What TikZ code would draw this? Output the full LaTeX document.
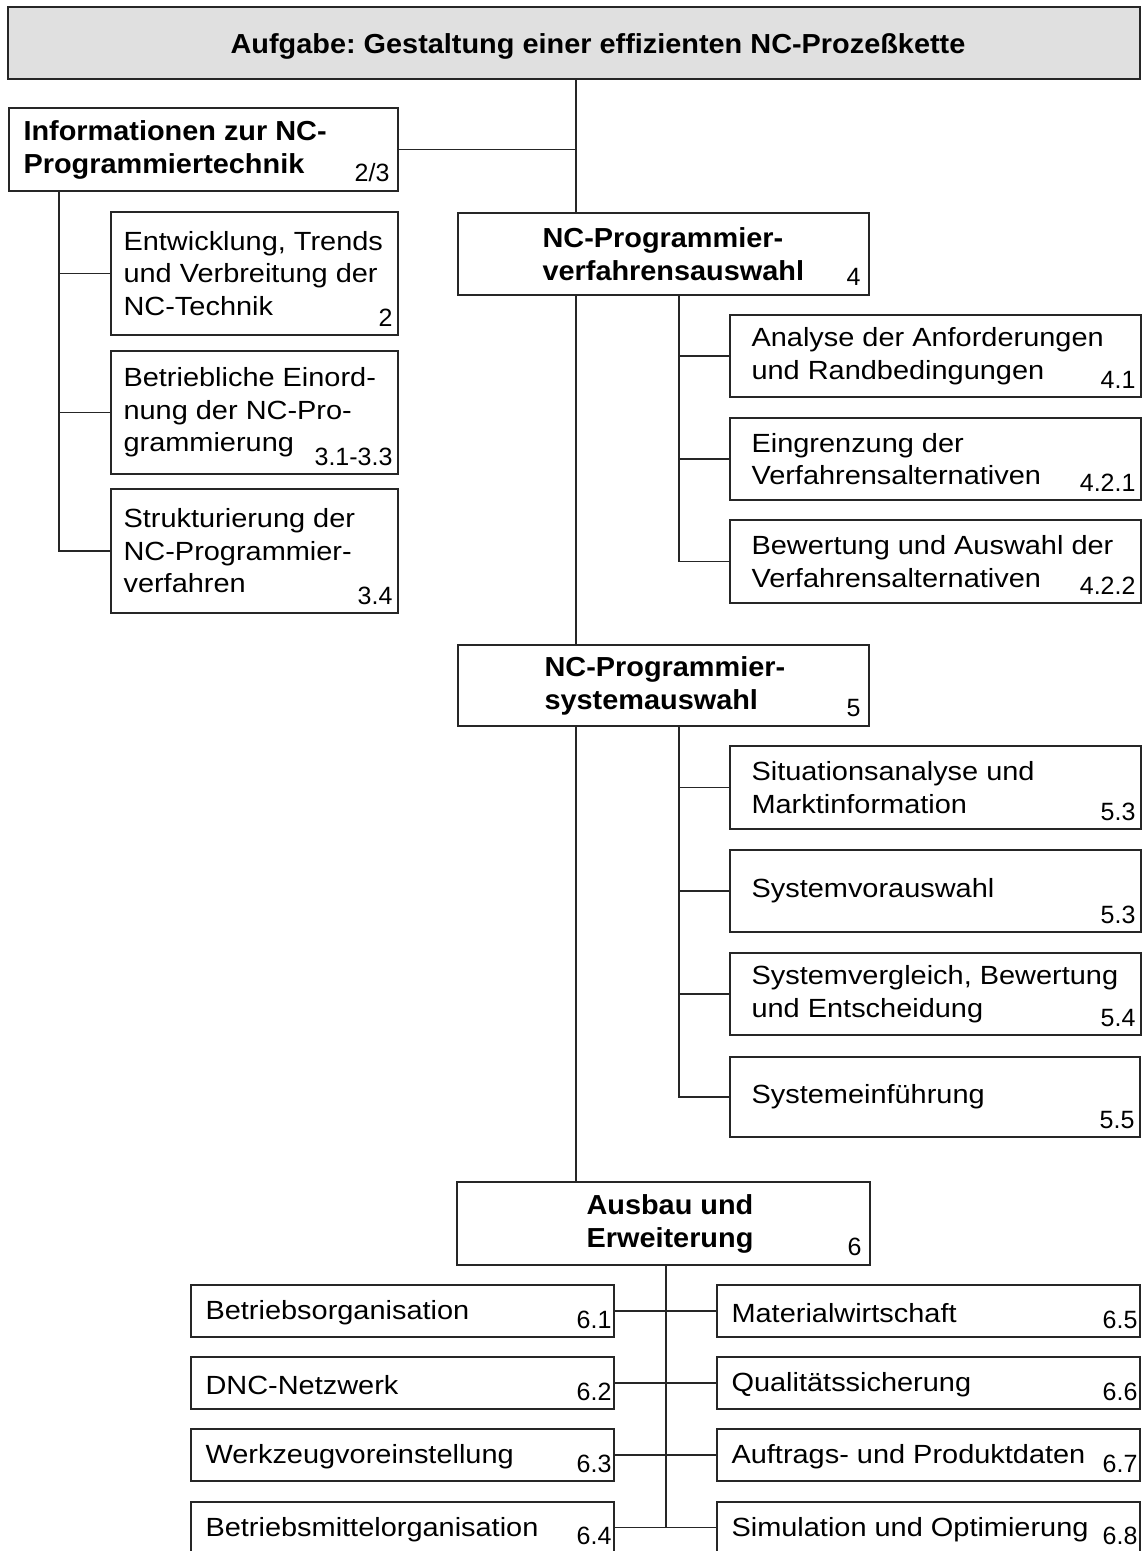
\documentclass[tikz,border=0pt]{standalone}
\usepackage{fontspec}
\setmainfont{Liberation Sans}
\newfontfamily\txtfont{Liberation Sans}[FakeStretch=1.10]
\newfontfamily\hdfont{Liberation Sans}[FakeStretch=1.05]
\newfontfamily\numfont{Liberation Sans}
\usetikzlibrary{fit}
\frenchspacing

\tikzset{
  frame/.style={rectangle, draw=black!85, line width=1.3pt, inner sep=0pt},
  topframe/.style={frame, fill=black!12},
  txt/.style={inner sep=0pt, align=left, font=\txtfont\fontsize{26.3}{32.5}\selectfont},
  hd/.style={inner sep=0pt, align=left, font=\hdfont\bfseries\fontsize{27.5}{33}\selectfont},
  num/.style={inner sep=0pt, anchor=base east, font=\numfont\fontsize{25}{30}\selectfont},
  link/.style={draw=black!85, line width=1.2pt},
}

% leaf box: name, x1, y1, x2, y2, left padding, text, number
\newcommand\leafbox[8]{%
  \node[frame, fit={(#2,#3) (#4,#5)}] (#1) {};
  \node[txt, anchor=west] (#1-t) at ([xshift=#6pt]#1.west) {#7};
  \node[num] (#1-n) at ([xshift=-6pt,yshift=9pt]#1.south east) {#8};
}
% one-line box of the last block: name, x1, y1, x2, y2, text, number
\newcommand\rowbox[7]{%
  \node[frame, fit={(#2,#3) (#4,#5)}] (#1) {};
  \node[txt, anchor=west] (#1-t) at ([xshift=15pt,yshift=-2pt]#1.west) {#6};
  \node[num] (#1-n) at ([xshift=-3pt,yshift=9pt]#1.south east) {#7};
}
% bold stage box: name, x1, y1, x2, y2, text offset, text, number
\newcommand\stagebox[8]{%
  \node[frame, fit={(#2,#3) (#4,#5)}] (#1) {};
  \node[hd, anchor=west] (#1-t) at ([xshift=#6pt]#1.west) {#7};
  \node[num] (#1-n) at ([xshift=-9pt,yshift=10pt]#1.south east) {#8};
}

\begin{document}
\begin{tikzpicture}[x=1pt, y=-1pt]
\useasboundingbox (0,0) rectangle (1146,1551);

% title bar
\node[topframe, fit={(8,7) (1140,79)}] (task) {};
\node[hd, anchor=base] (task-t) at (598,53) {Aufgabe: Gestaltung einer effizienten NC-Prozeßkette};

% left branch
\stagebox{info}{9}{108}{398}{191}{15}{Informationen zur NC-\\Programmiertechnik}{2/3}
\leafbox{e1}{111}{212}{398}{335}{13}{Entwicklung, Trends\\und Verbreitung der\\NC-Technik}{2}
\leafbox{e2}{111}{351}{398}{474}{13}{Betriebliche Einord-\\nung der NC-Pro-\\grammierung}{3.1-3.3}
\leafbox{e3}{111}{489}{398}{613}{13}{Strukturierung der\\NC-Programmier-\\verfahren}{3.4}

% procedure selection
\stagebox{pv}{458}{213}{869}{295}{85}{NC-Programmier-\\verfahrensauswahl}{4}
\leafbox{a1}{730}{315}{1141}{397}{22}{Analyse der Anforderungen\\und Randbedingungen}{4.1}
\leafbox{a2}{730}{418}{1141}{500}{22}{Eingrenzung der\\Verfahrensalternativen}{4.2.1}
\leafbox{a3}{730}{520}{1141}{603}{22}{Bewertung und Auswahl der\\Verfahrensalternativen}{4.2.2}

% system selection
\stagebox{ps}{458}{645}{869}{726}{87}{NC-Programmier-\\systemauswahl}{5}
\leafbox{s1}{730}{746}{1141}{829}{22}{Situationsanalyse und\\Marktinformation}{5.3}
\leafbox{s2}{730}{850}{1141}{932}{22}{Systemvorauswahl}{5.3}
\leafbox{s3}{730}{953}{1141}{1035}{22}{Systemvergleich, Bewertung\\und Entscheidung}{5.4}
\leafbox{s4}{730}{1057}{1140}{1137}{22}{Systemeinführung}{5.5}

% extension
\stagebox{ext}{457}{1182}{870}{1265}{130}{Ausbau und\\Erweiterung}{6}
\rowbox{l1}{191}{1285}{614}{1337}{Betriebsorganisation}{6.1}
\rowbox{l2}{191}{1357}{614}{1409}{DNC-Netzwerk}{6.2}
\rowbox{l3}{191}{1429}{614}{1481}{Werkzeugvoreinstellung}{6.3}
\rowbox{l4}{191}{1502}{614}{1553}{Betriebsmittelorganisation}{6.4}
\rowbox{r1}{717}{1285}{1140}{1337}{Materialwirtschaft}{6.5}
\rowbox{r2}{717}{1357}{1140}{1409}{Qualitätssicherung}{6.6}
\rowbox{r3}{717}{1429}{1140}{1481}{Auftrags- und Produktdaten}{6.7}
\rowbox{r4}{717}{1502}{1140}{1553}{Simulation und Optimierung}{6.8}

% trunk and branch lines
\coordinate (tx) at (576,0);
\coordinate (lx) at (59,0);
\coordinate (ax) at (679,0);
\coordinate (bx) at (666,0);

\draw[link] (tx |- task.south) -- (tx |- pv.north);
\draw[link] (tx |- pv.south) -- (tx |- ps.north);
\draw[link] (tx |- ps.south) -- (tx |- ext.north);
\draw[link] (info.east) -- (info.east -| tx);

\draw[link] (lx |- info.south) |- (e3.west);
\draw[link] (lx |- e1.west) -- (e1.west);
\draw[link] (lx |- e2.west) -- (e2.west);

\draw[link] (ax |- pv.south) |- (a3.west);
\draw[link] (ax |- a1.west) -- (a1.west);
\draw[link] (ax |- a2.west) -- (a2.west);

\draw[link] (ax |- ps.south) |- (s4.west);
\draw[link] (ax |- s1.west) -- (s1.west);
\draw[link] (ax |- s2.west) -- (s2.west);
\draw[link] (ax |- s3.west) -- (s3.west);

\draw[link] (bx |- ext.south) -- (bx |- l4.east);
\draw[link] (l1.east) -- (r1.west);
\draw[link] (l2.east) -- (r2.west);
\draw[link] (l3.east) -- (r3.west);
\draw[link] (l4.east) -- (r4.west);
\end{tikzpicture}
\end{document}
